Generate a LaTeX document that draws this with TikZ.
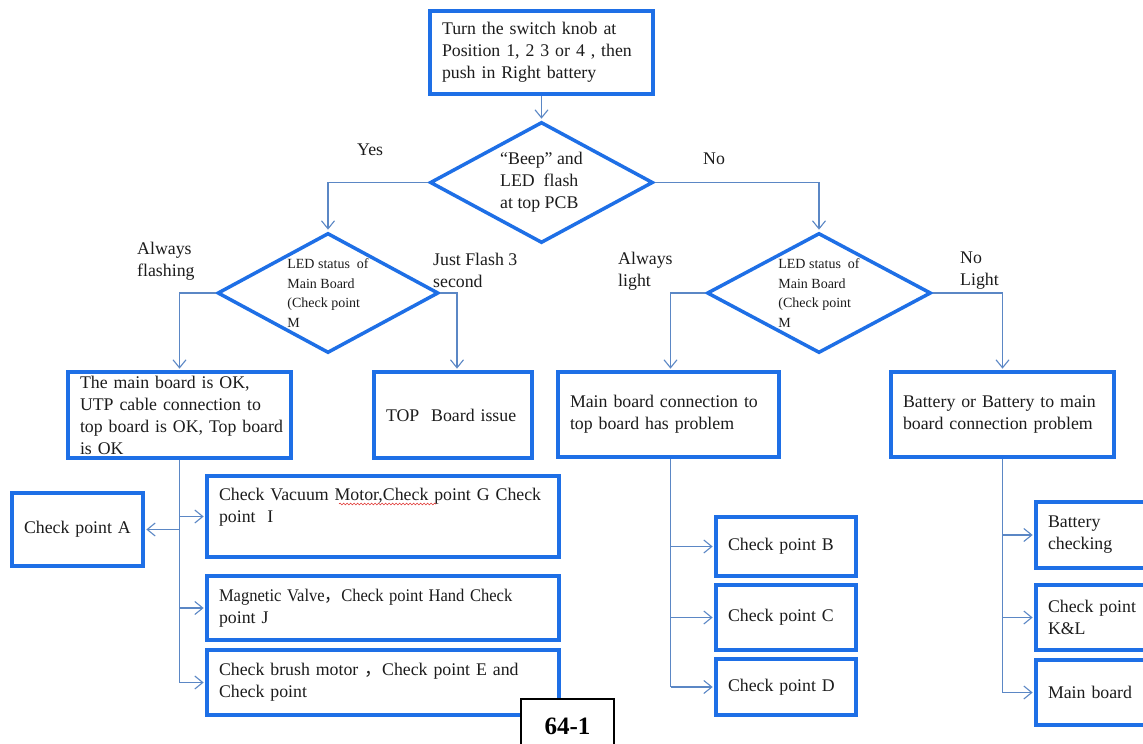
\documentclass[tikz,border=0pt]{standalone}
\usepackage{fontspec}
\setmainfont{Liberation Serif}
\newfontfamily\cjk{Noto Sans CJK SC}
\usepackage{graphicx}
\definecolor{boxblue}{HTML}{1E6FE6}
\definecolor{linkblue}{HTML}{5B87C5}
\definecolor{inkdark}{HTML}{1C1C1C}
\definecolor{spellred}{HTML}{E0322F}
\usetikzlibrary{arrows.meta,positioning,shapes.geometric,decorations.pathmorphing}
\newcommand\flowfont{\fontsize{17.8}{22}\selectfont}
\newcommand\diafont{\fontsize{14}{19.5}\selectfont}

\begin{document}
\begin{tikzpicture}[x=1pt,y=-1pt,
  flowbox/.style={draw=boxblue, line width=3.5pt, fill=white, text=inkdark, font=\flowfont, align=left, inner xsep=12pt, inner ysep=1pt},
  decision/.style={diamond, draw=boxblue, line width=3.5pt, fill=white, text=inkdark, font=\diafont, align=left, inner sep=0pt, aspect=1.84},
  flowtag/.style={text=inkdark, font=\flowfont, align=left, inner sep=0pt, anchor=west},
  wire/.style={draw=linkblue, line width=1.1pt},
  conn/.style={wire, -{Straight Barb[length=8pt,width=13pt]}, shorten >=1.6pt}]
  \useasboundingbox (0,0) rectangle (1143,744);
  \clip (0,0) rectangle (1143,744);
  \fill[white] (0,0) rectangle (1143,744);
  % Start and first decision
  \node[flowbox, minimum width=223pt, minimum height=83pt, text width=199pt] (start) at (541.5,52.5) {Turn the switch knob at\\Position 1, 2 3 or 4 , then\\push in Right battery};
  \node[decision, font=\flowfont, minimum width=223pt, minimum height=121pt] (d1) at (541.5,182.5) {``Beep'' and\\LED\ \ flash\\at top PCB};
  % LED status decisions
  \node[decision, minimum width=221pt, minimum height=120pt] (d2) at (328,293) {LED status\ \ of\\Main Board\\(Check point\\M};
  \node[decision, minimum width=224pt, minimum height=120pt] (d3) at (819,293) {LED status\ \ of\\Main Board\\(Check point\\M};
  % Results
  \node[flowbox, minimum width=223pt, minimum height=86pt, text width=199pt] (ok) at (179.5,415) {The main board is OK,\\UTP cable connection to\\\mbox{top board is OK, Top board}\\is OK};
  \node[flowbox, minimum width=158pt, minimum height=86pt, text width=134pt] (topb) at (453,415) {TOP\ \ Board issue};
  \node[flowbox, minimum width=221pt, minimum height=85pt, text width=197pt] (mbc) at (668.5,414.5) {Main board connection to\\top board has problem};
  \node[flowbox, minimum width=223pt, minimum height=85pt, text width=199pt] (batc) at (1002.5,414.5) {Battery or Battery to main\\board connection problem};
  % Checks, left
  \node[flowbox, minimum width=131pt, minimum height=73pt, text width=107pt] (cpa) at (77.5,529.5) {Check point A};
  \node[flowbox, minimum width=352pt, minimum height=81pt, text width=328pt] (vac) at (383,516.5) {Check Vacuum Motor,Check point G Check\\point\ \ I\\ \mbox{}};
  \node[flowbox, minimum width=352pt, minimum height=64pt, text width=328pt] (mag) at (383,608) {\scalebox{0.93}[1]{Magnetic Valve{\cjk ，}Check point Hand Check}\\point J};
  \node[flowbox, minimum width=352pt, minimum height=65pt, text width=328pt] (brush) at (383,682.5) {Check brush motor {\cjk ，}Check point E and\\Check point};
  % Checks, middle
  \node[flowbox, minimum width=140pt, minimum height=59pt, text width=116pt] (cpb) at (786,546.5) {Check point B};
  \node[flowbox, minimum width=140pt, minimum height=65pt, text width=116pt] (cpc) at (786,617.5) {Check point C};
  \node[flowbox, minimum width=140pt, minimum height=56pt, text width=116pt] (cpd) at (786,687) {Check point D};
  % Checks, right
  \node[flowbox, minimum width=130pt, minimum height=66pt, text width=106pt] (batchk) at (1101,535) {Battery\\checking};
  \node[flowbox, minimum width=130pt, minimum height=65pt, text width=106pt] (kl) at (1101,617.5) {Check point\\K\&L};
  \node[flowbox, minimum width=130pt, minimum height=65pt, text width=106pt] (mainb) at (1101,692.5) {Main board};
  % Branch labels
  \node[flowtag] (yes) at (357,150) {Yes};
  \node[flowtag] (no) at (703,159) {No};
  \node[flowtag] (alwf) at (137,261.5) {Always\\flashing};
  \node[flowtag] (just) at (433,270) {Just Flash 3\\second};
  \node[flowtag] (alwl) at (618,271) {Always\\light};
  \node[flowtag] (nol) at (960,271) {No\\Light};
  % Connectors
  \draw[conn] (start.south) -- (d1.north);
  \draw[conn] (d1.west) -| (d2.north);
  \draw[conn] (d1.east) -| (d3.north);
  \draw[conn] (d2.west) -| (ok.north);
  \draw[conn] (d2.east) -| ([xshift=4pt]topb.north);
  \draw[conn] (d3.west) -| ([xshift=2pt]mbc.north);
  \draw[conn] (d3.east) -| (batc.north);
  \draw[wire] (ok.south) -- (ok.south |- brush.west);
  \draw[conn] (ok.south |- cpa.east) -- (cpa.east);
  \foreach \n in {vac,mag,brush}
    \draw[conn] (ok.south |- \n.west) -- (\n.west);
  \draw[wire] ([xshift=2pt]mbc.south) -- ([xshift=2pt]mbc.south |- cpd.west);
  \foreach \n in {cpb,cpc,cpd}
    \draw[conn] ([xshift=2pt]mbc.south |- \n.west) -- (\n.west);
  \draw[wire] (batc.south) -- (batc.south |- mainb.west);
  \foreach \n in {batchk,kl,mainb}
    \draw[conn] (batc.south |- \n.west) -- (\n.west);
  % Spelling mark
  \draw[spellred, line width=0.6pt, decorate, decoration={snake, amplitude=0.9pt, segment length=3.5pt}] (339,504) -- (436,504);
  % Figure number
  \node[draw=black, line width=1.2pt, fill=white, font=\bfseries\fontsize{25}{30}\selectfont, minimum width=93pt, minimum height=54pt, inner sep=0pt] (fignum) at (567.5,726) {64-1};
\end{tikzpicture}
\end{document}
